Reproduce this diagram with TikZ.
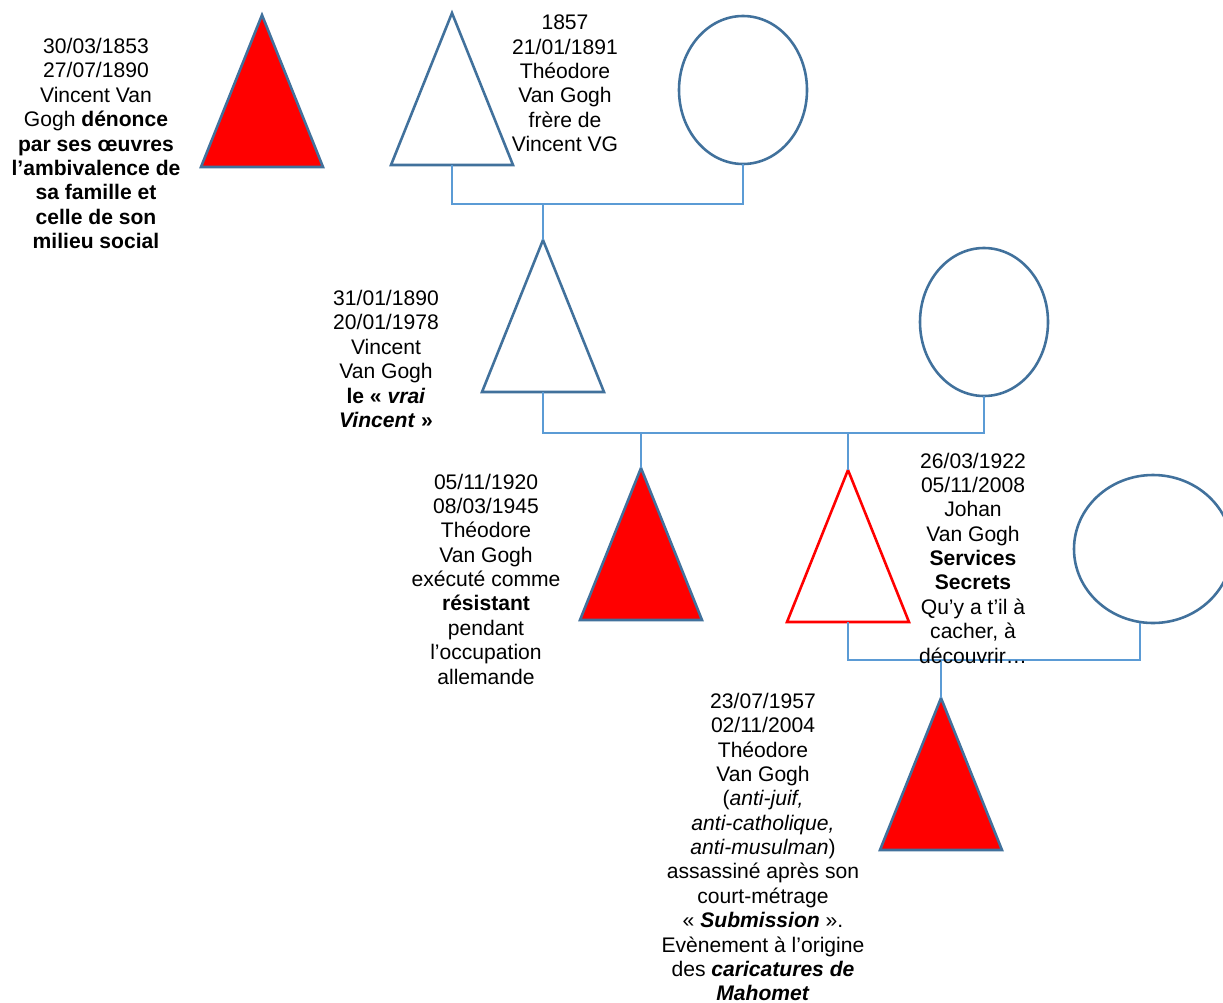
\documentclass[tikz,border=0pt]{standalone}
\usepackage{fontspec}
\setmainfont{Liberation Sans}
\usetikzlibrary{positioning,shapes.geometric}
\definecolor{edgeblue}{RGB}{65,113,156}
\definecolor{linkblue}{RGB}{91,155,213}
\newcommand{\fs}{\fontsize{18pt}{20.8pt}\selectfont}

\begin{document}
\begin{tikzpicture}[x=0.03cm,y=-0.03cm,
	male/.style={isosceles triangle,shape border rotate=90,isosceles triangle stretches,
		minimum width=3.66cm,minimum height=4.56cm,inner sep=0pt,outer sep=0pt,
		draw=edgeblue,line width=2.2pt,fill=white},
	dead/.style={male,fill=red},
	female/.style={ellipse,minimum width=3.84cm,minimum height=4.44cm,inner sep=0pt,
		outer sep=0pt,draw=edgeblue,line width=2.2pt},
	link/.style={draw=linkblue,line width=1.1pt},
	info/.style={align=center,font=\fs,inner sep=0pt}]
	\useasboundingbox (0,0) rectangle (1223,1003);

	% generation 1
	\node[dead,anchor=apex] (vvg) at (262,15) {};
	\node[male,anchor=apex] (theo) at (452,13) {};
	\node[female] (mere1) at (743,90) {};
	\coordinate (c1) at (543,204);

	% generation 2
	\node[male,anchor=apex] (vincent) at (543,240) {};
	\node[female] (mere2) at (984,322) {};
	\coordinate (c2) at (641,433);
	\coordinate (c2b) at (848,433);

	% generation 3
	\node[dead,anchor=apex] (theo2) at (641,468) {};
	\node[male,draw=red,anchor=apex] (johan) at (848,470) {};
	\node[female,minimum width=4.74cm] (mere3) at (1153,549) {};
	\coordinate (c3) at (941,660);

	% generation 4
	\node[dead,anchor=apex] (theo3) at (941,698) {};

	\draw[link] (theo.lower side) |- (c1) -| (mere1.south);
	\draw[link] (c1) -- (vincent.apex);
	\draw[link] (vincent.lower side) |- (c2) -| (mere2.south);
	\draw[link] (c2) -- (theo2.apex);
	\draw[link] (c2b) -- (johan.apex);
	\draw[link] (johan.lower side) |- (c3) -| ([xshift=-0.39cm]mere3.south);
	\draw[link] (c3) -- (theo3.apex);

	% texts
	\node[info] (lvvg) at (96,143.5) {30/03/1853\\27/07/1890\\Vincent Van\\Gogh \textbf{dénonce}\\
		\textbf{par ses œuvres}\\\textbf{l’ambivalence de}\\\textbf{sa famille et}\\
		\textbf{celle de son}\\\textbf{milieu social}};
	\node[info] (ltheo) at (565,83.5) {1857\\21/01/1891\\Théodore\\Van Gogh\\frère de\\Vincent VG};
	\node[info] (lvincent) at (386,359) {31/01/1890\\20/01/1978\\Vincent\\Van Gogh\\
		\textbf{le « \textit{vrai}}\\\textbf{\textit{Vincent} »}};
	\node[info] (ltheo2) at (486,579) {05/11/1920\\08/03/1945\\Théodore\\Van Gogh\\exécuté comme\\
		\textbf{résistant}\\pendant\\l’occupation\\allemande};
	\node[info] (ljohan) at (973,558) {26/03/1922\\05/11/2008\\Johan\\Van Gogh\\\textbf{Services}\\
		\textbf{Secrets}\\Qu’y a t’il à\\cacher, à\\découvrir…};
	\node[info] (ltheo3) at (763,847) {23/07/1957\\02/11/2004\\Théodore\\Van Gogh\\(\textit{anti-juif,}\\
		\textit{anti-catholique,}\\\textit{anti-musulman})\\assassiné après son\\court-métrage\\
		« \textbf{\textit{Submission}} ».\\Evènement à l’origine\\des \textbf{\textit{caricatures de}}\\
		\textbf{\textit{Mahomet}}};
\end{tikzpicture}
\end{document}
